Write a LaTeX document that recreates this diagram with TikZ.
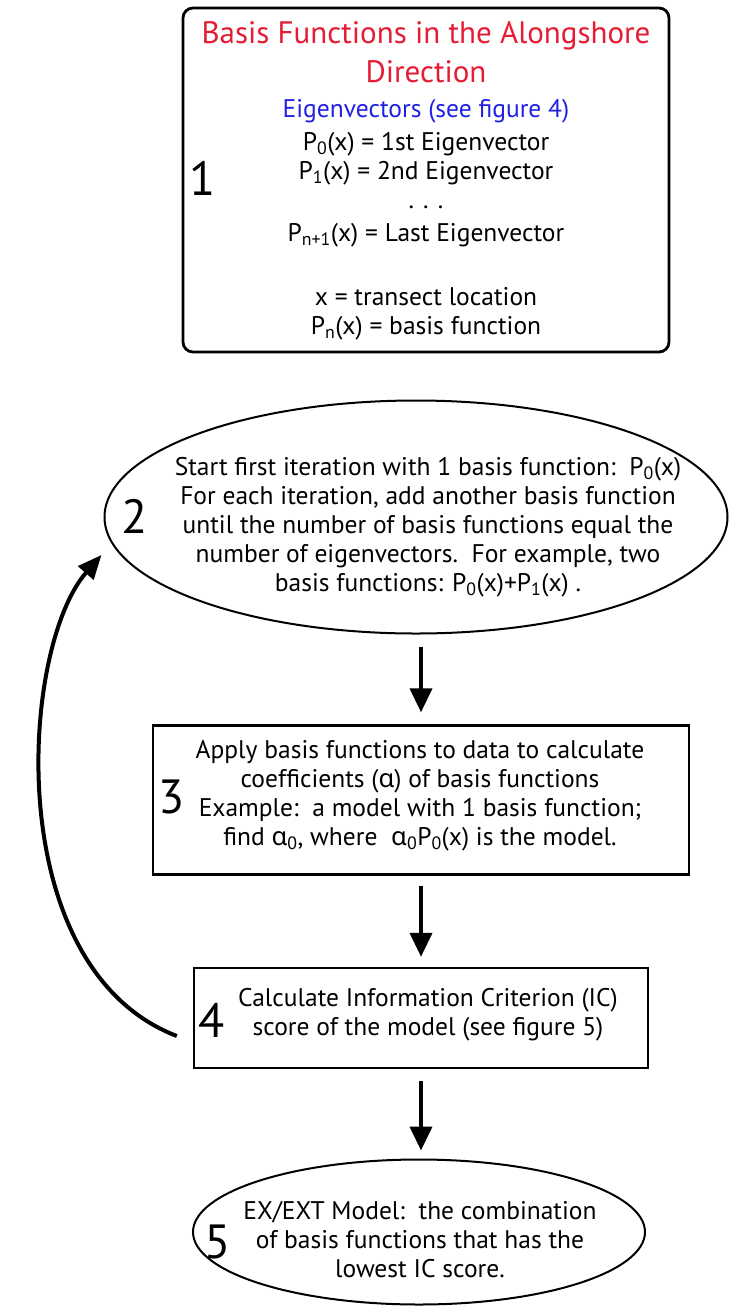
\documentclass[tikz,border=0pt]{standalone}
\usepackage{fontspec}
\setmainfont{PT Sans}
\newfontfamily\grkfont{Noto Sans}
\usetikzlibrary{arrows.meta,shapes.geometric}
\definecolor{titlered}{RGB}{228,28,52}
\definecolor{eigblue}{RGB}{32,32,228}
\newcommand{\lo}[1]{\textsubscript{#1}}
\newcommand{\alp}{{\grkfont α}}
\newcommand{\ttl}[1]{\textcolor{titlered}{\fontsize{31}{29}\selectfont #1}}

\begin{document}
\begin{tikzpicture}[x=1pt,y=-1pt]
\useasboundingbox (0,0) rectangle (730,1307);
\begin{scope}[every node/.style={draw,line width=2.4pt,inner sep=0pt}]
    \node[rounded corners=10pt,minimum width=486pt,minimum height=344pt,line width=2.8pt] (b1) at (426,180) {};
    \node[ellipse,minimum width=623pt,minimum height=233pt,line width=2pt] (e2) at (416,517) {};
    \node[minimum width=536pt,minimum height=149pt] (b3) at (421,800) {};
    \node[minimum width=454pt,minimum height=100pt] (b4) at (421,1018) {};
    \node[ellipse,minimum width=452pt,minimum height=145pt,line width=2pt] (e5) at (419,1232) {};
\end{scope}
\begin{scope}[every node/.style={align=center,font=\fontsize{25.5}{29}\selectfont}]
    \node (t1) at (426,181) {\ttl{Basis Functions in the Alongshore}\\[10pt]
        \ttl{Direction}\\[6pt]
        \textcolor{eigblue}{Eigenvectors (see figure 4)}\\[4pt]
        P\lo{0}(x) = 1st Eigenvector\\
        P\lo{1}(x) = 2nd Eigenvector\\
        . . .\\[4pt]
        P\lo{n+1}(x) = Last Eigenvector\\[35pt]
        x = transect location\\
        P\lo{n}(x) = basis function};
    \node (t2) at (428,527) {Start first iteration with 1 basis function:~~P\lo{0}(x)\\
        For each iteration, add another basis function\\
        until the number of basis functions equal the\\
        number of eigenvectors.~~For example, two\\
        basis functions: P\lo{0}(x)+P\lo{1}(x) .};
    \node (t3) at (420,796) {Apply basis functions to data to calculate\\
        coefficients (\alp) of basis functions\\
        Example:~~a model with 1 basis function;\\
        find \alp\lo{0}, where~~\alp\lo{0}P\lo{0}(x) is the model.};
    \node (t4) at (428,1015) {Calculate Information Criterion (IC)\\
        score of the model (see figure 5)};
    \node (t5) at (420,1240) {EX/EXT Model:~~the combination\\
        of basis functions that has the\\
        lowest IC score.};
\end{scope}
\begin{scope}[every node/.style={font=\fontsize{48}{48}\selectfont}]
    \node (n1) at (203,178) {1};
    \node (n2) at (135,516) {2};
    \node (n3) at (172,797) {3};
    \node (n4) at (212,1020) {4};
    \node (n5) at (218,1242) {5};
\end{scope}
\begin{scope}[every edge/.style={draw=black,line width=4pt,-{Triangle[width=22pt,length=24pt]}}]
    \path (e2.south -| b3.north) edge[shorten <=12pt,shorten >=12pt] (b3.north);
    \path (b3.south) edge[shorten <=10pt,shorten >=10pt] (b4.north);
    \path (b4.south) edge[shorten <=12pt,shorten >=8pt] (b4.south |- e5.north);
\end{scope}
\draw[line width=4pt,-{Triangle[width=20pt,length=24pt]}] ([shift={(-16,18)}]b4.west) .. controls (0,968) and (20,648) .. ([shift={(-2,38)}]e2.west);
\end{tikzpicture}
\end{document}
